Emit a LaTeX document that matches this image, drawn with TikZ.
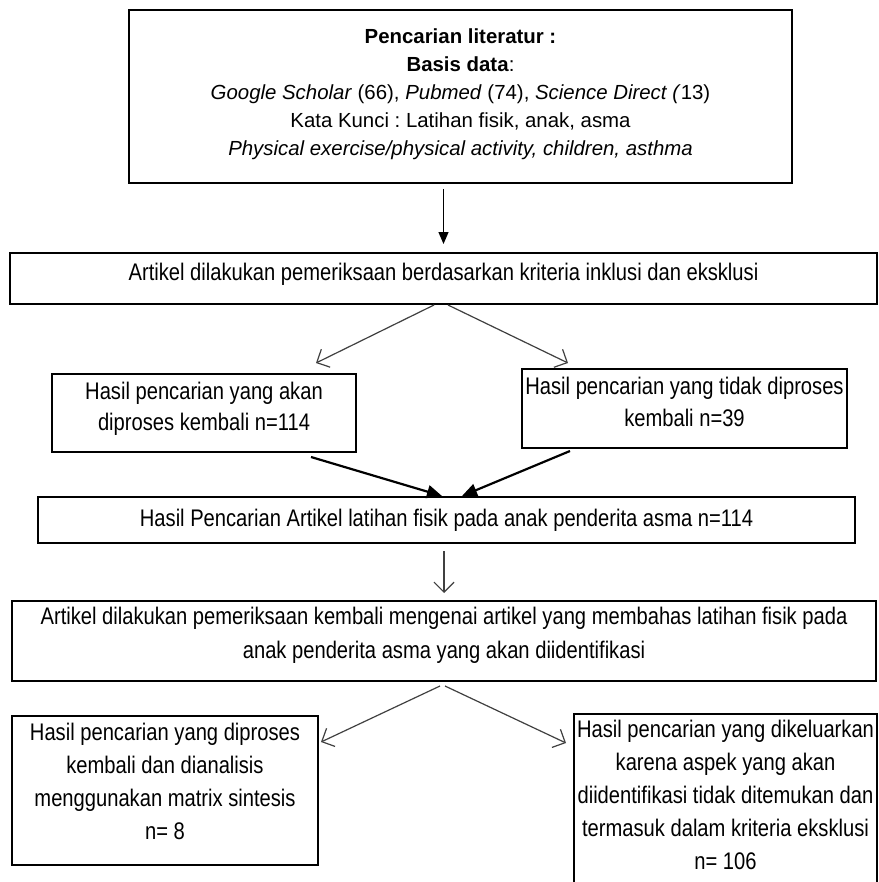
\documentclass[tikz,border=0pt]{standalone}
\usepackage{fontspec}
\setmainfont{Liberation Sans}
\newfontfamily\narrowfont[FakeStretch=0.84]{Liberation Sans}
\usetikzlibrary{arrows.meta,calc}
\frenchspacing
\begin{document}
\begin{tikzpicture}[x=0.5pt,y=-0.5pt,
  box/.style={draw=black, line width=1pt, rectangle, inner sep=0pt, align=center},
  nbox/.style={box, font={\narrowfont\fontsize{12}{#1}\selectfont}},
  headfill/.style={draw=black, line width=0.6pt, -{Triangle[length=6pt,width=5pt]}},
  openarrow/.style={draw=black!75, line width=0.6pt, -{Straight Barb[length=5pt,width=10pt]}},
  thickarrow/.style={draw=black, line width=1.1pt, -{Triangle[length=7.5pt,width=6.5pt]}}]
\useasboundingbox (0,0) rectangle (878,882);
\clip (0,0) rectangle (878,882);
\fill[white] (0,0) rectangle (878,882);

\node[box, minimum width=331.5pt, minimum height=86.5pt, text depth=4pt, font={\fontsize{10.2}{14}\selectfont}] (top) at (460.5,96.5)
  {\textbf{Pencarian literatur :}\\ \textbf{Basis data}:\\
   \textit{Google Scholar} (66), \textit{Pubmed} (74), \textit{Science Direct (}13)\\
   Kata Kunci : Latihan fisik, anak, asma\\
   \textit{Physical exercise/physical activity, children, asthma}};

\node[nbox=14, minimum width=433.5pt, minimum height=25.5pt, text depth=7pt] (b2) at (443.5,278.5)
  {Artikel dilakukan pemeriksaan berdasarkan kriteria inklusi dan eksklusi};

\node[nbox=15.5, minimum width=152pt, minimum height=39pt, text depth=6.5pt] (l1) at (204,413)
  {Hasil pencarian yang akan\\ diproses kembali n=114};

\node[nbox=16, minimum width=162.5pt, minimum height=39.5pt, text depth=6.5pt] (r1) at (684.5,408.5)
  {Hasil pencarian yang tidak diproses\\ kembali n=39};

\node[nbox=14, minimum width=408.5pt, minimum height=23pt] (b3) at (446.5,520)
  {Hasil Pencarian Artikel latihan fisik pada anak penderita asma n=114};

\node[nbox=17, minimum width=432pt, minimum height=40pt, text depth=8.5pt] (b4) at (444,641)
  {Artikel dilakukan pemeriksaan kembali mengenai artikel yang membahas latihan fisik pada\\ anak penderita asma yang akan diidentifikasi};

\node[nbox=16.5, minimum width=153pt, minimum height=74.5pt, text depth=9.5pt] (l2) at (165,790.5)
  {Hasil pencarian yang diproses\\ kembali dan dianalisis\\ menggunakan matrix sintesis\\ n= 8};

\node[nbox=16.5, minimum width=151.5pt, minimum height=86pt, text depth=5.5pt] (r2) at (725.5,800)
  {Hasil pencarian yang dikeluarkan\\ karena aspek yang akan\\ diidentifikasi tidak ditemukan dan\\ termasuk dalam kriteria eksklusi\\ n= 106};

\draw[headfill] ($(top.south -| b2.north)+(0,5)$) -- ($(b2.north)+(0,-8)$);
\draw[openarrow] ($(b2.south)+(-9.5,0)$) -- ($(l1.north)+(112,-10)$);
\draw[openarrow] ($(b2.south)+(4.5,0)$) -- ($(r1.north)+(-116.5,-5)$);
\draw[thickarrow] ($(l1.south)+(107,4)$) -- ($(b3.north)+(-4.5,0)$);
\draw[thickarrow] ($(r1.south)+(-114.5,2)$) -- ($(b3.north)+(15.5,0)$);
\draw[openarrow] ($(b3.south)+(-2.5,7)$) -- ($(b4.north)+(0,-7)$);
\draw[openarrow] ($(b4.south)+(-4,4)$) -- ($(l2.north east)+(2,27)$);
\draw[openarrow] ($(b4.south)+(1,4)$) -- ($(r2.north west)+(-7,30)$);
\end{tikzpicture}
\end{document}
